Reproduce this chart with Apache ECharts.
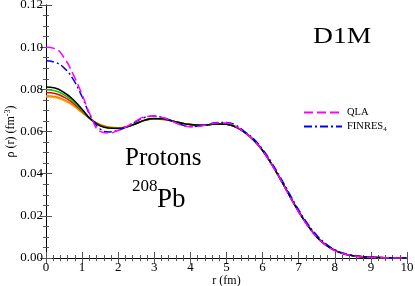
<!DOCTYPE html>
<html><head><meta charset="utf-8">
<script src="https://cdn.jsdelivr.net/npm/echarts@6/dist/echarts.min.js"></script>
<style>html,body{margin:0;padding:0;background:#fff}#c{width:415px;height:286px}</style>
</head><body><div id="c"></div>
<script>
var r = [0,0.25,0.5,0.75,1,1.25,1.5,1.75,2,2.25,2.5,2.75,3,3.25,3.5,3.75,4,4.25,4.5,4.75,5,5.25,5.5,5.75,6,6.25,6.5,6.75,7,7.25,7.5,7.75,8,8.25,8.5,8.75,9,9.25,9.5,9.75,10];
var blackVals  = [0.0811,0.0806,0.0785,0.0752,0.0705,0.0657,0.0627,0.0616,0.0614,0.0622,0.0638,0.0655,0.0662,0.0660,0.0650,0.0640,0.0633,0.0630,0.0632,0.0636,0.0634,0.0622,0.0596,0.0560,0.0510,0.0445,0.0372,0.0295,0.0220,0.0155,0.0100,0.0062,0.0036,0.0020,0.0011,0.0006,0.0003,0.0002,0.0001,0.0000,0.0000];
var greenVals  = [0.0798,0.0793,0.0774,0.0743,0.0700,0.0656,0.0628,0.0617,0.0615,0.0622,0.0638,0.0654,0.0661,0.0659,0.0650,0.0640,0.0633,0.0630,0.0632,0.0636,0.0634,0.0622,0.0596,0.0560,0.0510,0.0445,0.0372,0.0295,0.0220,0.0155,0.0100,0.0062,0.0036,0.0020,0.0011,0.0006,0.0003,0.0002,0.0001,0.0000,0.0000];
var redVals    = [0.0785,0.0780,0.0763,0.0735,0.0696,0.0656,0.0630,0.0618,0.0616,0.0623,0.0638,0.0654,0.0660,0.0658,0.0650,0.0640,0.0633,0.0630,0.0632,0.0636,0.0634,0.0622,0.0596,0.0560,0.0510,0.0445,0.0372,0.0295,0.0220,0.0155,0.0100,0.0062,0.0036,0.0020,0.0011,0.0006,0.0003,0.0002,0.0001,0.0000,0.0000];
var orangeVals = [0.0770,0.0766,0.0751,0.0726,0.0691,0.0657,0.0632,0.0620,0.0617,0.0623,0.0638,0.0653,0.0659,0.0657,0.0649,0.0640,0.0633,0.0631,0.0632,0.0636,0.0634,0.0622,0.0596,0.0560,0.0510,0.0445,0.0372,0.0295,0.0220,0.0155,0.0100,0.0062,0.0036,0.0020,0.0011,0.0006,0.0003,0.0002,0.0001,0.0000,0.0000];
var goldVals   = [0.0765,0.0761,0.0747,0.0723,0.0689,0.0657,0.0633,0.0621,0.0618,0.0624,0.0638,0.0653,0.0659,0.0657,0.0649,0.0640,0.0634,0.0631,0.0632,0.0636,0.0634,0.0622,0.0596,0.0560,0.0510,0.0445,0.0372,0.0295,0.0220,0.0155,0.0100,0.0062,0.0036,0.0020,0.0011,0.0006,0.0003,0.0002,0.0001,0.0000,0.0000];
var qlaVals    = [0.1000,0.0993,0.0950,0.0872,0.0775,0.0670,0.0601,0.0593,0.0605,0.0625,0.0650,0.0670,0.0673,0.0665,0.0648,0.0630,0.0623,0.0625,0.0633,0.0641,0.0640,0.0625,0.0595,0.0560,0.0508,0.0443,0.0370,0.0292,0.0217,0.0152,0.0099,0.0061,0.0035,0.0020,0.0011,0.0006,0.0003,0.0002,0.0001,0.0000,0.0000];
var finresVals = [0.0935,0.0928,0.0902,0.0848,0.0765,0.0668,0.0612,0.0598,0.0606,0.0624,0.0648,0.0668,0.0673,0.0666,0.0650,0.0632,0.0624,0.0626,0.0634,0.0643,0.0643,0.0630,0.0600,0.0565,0.0515,0.0452,0.0380,0.0303,0.0228,0.0162,0.0108,0.0068,0.0040,0.0023,0.0013,0.0007,0.0003,0.0001,0.0000,0.0000,0.0000];
var xTicks = [0,1,2,3,4,5,6,7,8,9,10];
var yTicks = ['0.00','0.02','0.04','0.06','0.08','0.10','0.12'];

function pairs(v){ return r.map(function(x,i){ return [x, v[i]]; }); }
var font = 'Liberation Serif';
function solid(name, color, vals){
  return {name:name, type:'line', data:pairs(vals), smooth:true, symbol:'none', lineStyle:{color:color,width:1.5}, itemStyle:{color:color}, z:2};
}
var axisLine = {lineStyle:{color:'#000',width:1}};
var axisTick = {inside:true,length:6,lineStyle:{color:'#555',width:1}};
function minor(n){ return {show:true,splitNumber:n,length:3,lineStyle:{color:'#555',width:1}}; }
var chart = echarts.init(document.getElementById('c'));
chart.setOption({
  animation:false,
  backgroundColor:'#fff',
  grid:{left:46,right:8,top:5,bottom:28,containLabel:false,outerBoundsMode:'none'},
  legend:{
    data:['QLA','FINRES4'], orient:'vertical', left:298, top:102,
    itemWidth:38, itemHeight:8, itemGap:3,
    itemStyle:{opacity:0},
    textStyle:{fontFamily:font,fontSize:10.5,color:'#000',
      rich:{sub:{fontFamily:font,fontSize:7,verticalAlign:'bottom',padding:[5,0,0,0]}}},
    formatter:function(n){ return n==='FINRES4' ? 'FINRES{sub|4}' : n; }
  },
  xAxis:[
    {type:'value',min:0,max:10,interval:1,position:'bottom',
      axisLine:axisLine,axisTick:axisTick,minorTick:minor(5),splitLine:{show:false},
      axisLabel:{fontFamily:font,fontSize:13,color:'#000',margin:3,
        formatter:function(v){ return xTicks.indexOf(v)>=0 ? String(v) : ''; }},
      name:'r (fm)', nameLocation:'middle', nameGap:17, nameMoveOverlap:false,
      nameTextStyle:{fontFamily:font,fontSize:12,color:'#000',verticalAlign:'top',lineHeight:12}},
    {type:'value',min:0,max:10,interval:1,position:'top',
      axisLine:axisLine,axisTick:axisTick,minorTick:minor(5),splitLine:{show:false},
      axisLabel:{show:false}}
  ],
  yAxis:[
    {type:'value',min:0,max:0.12,interval:0.02,position:'left',
      axisLine:axisLine,axisTick:axisTick,minorTick:minor(4),splitLine:{show:false},
      axisLabel:{fontFamily:font,fontSize:13,color:'#000',margin:3,
        formatter:function(v){ return yTicks[Math.round(v/0.02)]; }},
      name:'ρ (r) (fm{sup|-3})', nameLocation:'middle', nameGap:28, nameRotate:90, nameMoveOverlap:false,
      nameTextStyle:{fontFamily:font,fontSize:12,color:'#000',
        rich:{sup:{fontFamily:font,fontSize:8,verticalAlign:'top',padding:[0,0,6,0]}}}},
    {type:'value',min:0,max:0.12,interval:0.02,position:'right',
      axisLine:axisLine,axisTick:axisTick,minorTick:minor(4),splitLine:{show:false},
      axisLabel:{show:false}}
  ],
  series:[
    solid('s5','#ffa500',goldVals),
    solid('s4','#ff8000',orangeVals),
    solid('s3','#ff0000',redVals),
    solid('s2','#00cc00',greenVals),
    solid('s1','#000000',blackVals),
    {name:'FINRES4',type:'line',data:pairs(finresVals),smooth:true,symbol:'none',z:3,
      lineStyle:{color:'#0000ff',width:1.5,type:[8,3,2,3]},itemStyle:{color:'#0000ff'}},
    {name:'QLA',type:'line',data:pairs(qlaVals),smooth:true,symbol:'none',z:4,
      lineStyle:{color:'#ff00ff',width:1.5,type:[9,4]},itemStyle:{color:'#ff00ff'}}
  ],
  graphic:[
    {type:'text',left:313,top:25,scaleX:1.15,style:{text:'D1M',font:'24px "Liberation Serif"',fill:'#000'}},
    {type:'text',left:125,top:146,style:{text:'Protons',font:'25px "Liberation Serif"',fill:'#000'}},
    {type:'text',left:132,top:178,style:{text:'208',font:'17px "Liberation Serif"',fill:'#000'}},
    {type:'text',left:157,top:186,style:{text:'Pb',font:'27px "Liberation Serif"',fill:'#000'}}
  ]
});
</script></body></html>
